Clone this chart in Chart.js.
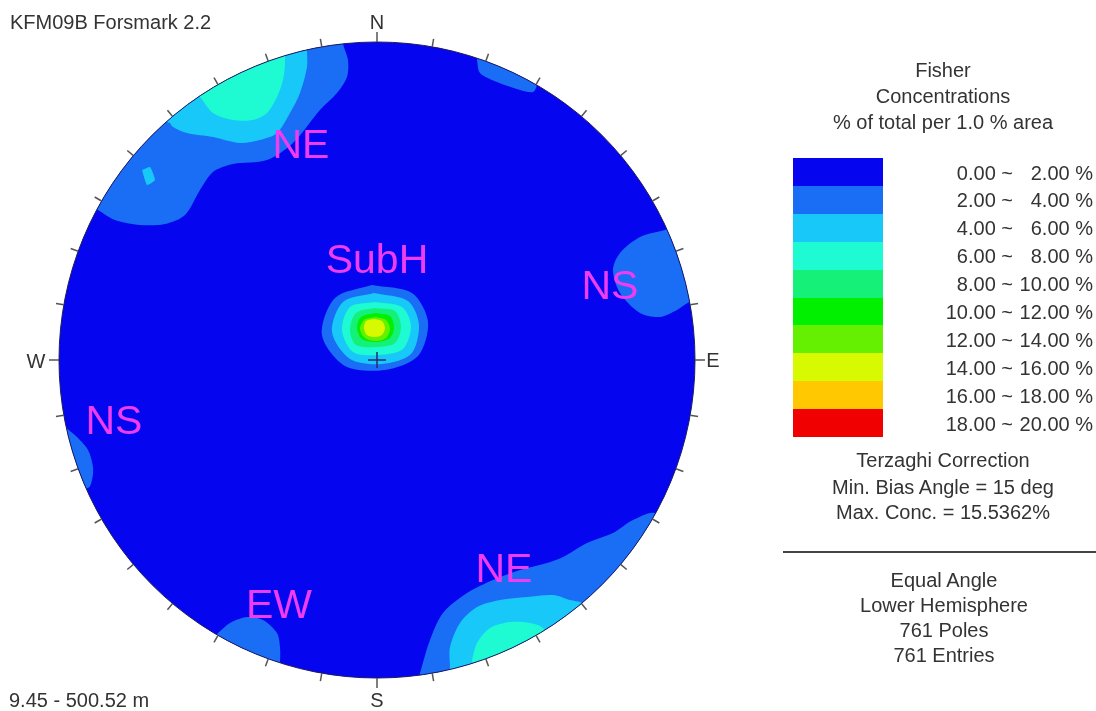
<!DOCTYPE html>
<html>
<head>
<meta charset="utf-8">
<title>KFM09B Forsmark 2.2</title>
<script src="https://cdn.jsdelivr.net/npm/chart.js@4/dist/chart.umd.min.js"></script>
<style>
  body { margin: 0; background: #fff; font-family: "Liberation Sans", Arial, sans-serif; color: #333; }
  #wrap { position: relative; width: 1096px; height: 711px; overflow: hidden; }
  #net { position: absolute; left: 0; top: 0; }
  .txt { position: absolute; font-size: 20px; line-height: 20px; white-space: pre; }
  .ctr { transform: translateX(-50%); }
  .mid { transform: translate(-50%, -50%); }
  .lbl { position: absolute; font-size: 41px; line-height: 41px; color: #f03cf0; white-space: pre; transform: translate(-50%, -50%); }
  .swatch { position: absolute; left: 793px; width: 90px; }
</style>
</head>
<body>
<div id="wrap">
  <canvas id="net" width="1096" height="711"></canvas>
  <div class="txt" style="left:10px;top:12px">KFM09B Forsmark 2.2</div>
  <div class="txt" style="left:9px;top:690px">9.45 - 500.52 m</div>

  <div class="txt ctr" style="left:943px;top:60px">Fisher</div>
  <div class="txt ctr" style="left:943px;top:86px">Concentrations</div>
  <div class="txt ctr" style="left:943px;top:112px">% of total per 1.0 % area</div>

  <div class="txt ctr" style="left:943px;top:450px">Terzaghi Correction</div>
  <div class="txt ctr" style="left:943px;top:477px">Min. Bias Angle = 15 deg</div>
  <div class="txt ctr" style="left:943px;top:502px">Max. Conc. = 15.5362%</div>
  <div style="position:absolute;left:783px;top:551px;width:313px;border-top:2px solid #444"></div>
  <div class="txt ctr" style="left:944px;top:570px">Equal Angle</div>
  <div class="txt ctr" style="left:944px;top:595px">Lower Hemisphere</div>
  <div class="txt ctr" style="left:944px;top:620px">761 Poles</div>
  <div class="txt ctr" style="left:944px;top:645px">761 Entries</div>
</div>

<script>
// net radius in plot units (east / north, centre = 0, 0)
const NET_RADIUS = 318;

// concentration classes (% of total per 1 % area)
const levelLow = ['0.00', '2.00', '4.00', '6.00', '8.00', '10.00', '12.00', '14.00', '16.00', '18.00'];
const levelHigh = ['2.00', '4.00', '6.00', '8.00', '10.00', '12.00', '14.00', '16.00', '18.00', '20.00'];
const levelColors = ['#0505f0', '#1a6ef5', '#18c8f8', '#1efad2', '#14f078', '#00f000', '#64f000', '#d7fa00', '#ffc800', '#f00000'];

const neTop2to4 = [[-279, 150], [-262, 140], [-237, 135], [-212, 136], [-192, 145], [-177, 170], [-164, 188], [-144, 196], [-110, 200], [-84, 217], [-57, 250], [-40, 267], [-30, 283], [-29, 300], [-34, 317], [-34, 345], [-180, 345], [-320, 230], [-300, 160]];
const neTop4to6 = [[-207, 237], [-204, 233], [-190, 227], [-164, 223], [-137, 217], [-117, 220], [-100, 227], [-87, 247], [-77, 267], [-70, 293], [-70, 310], [-70, 345], [-230, 290], [-225, 245]];
const neTop6to8 = [[-176, 262], [-164, 247], [-144, 240], [-124, 240], [-110, 247], [-100, 263], [-94, 280], [-92, 298], [-95, 340], [-200, 290]];
const speck4to6 = [[-235, 190], [-227, 193], [-222, 180], [-230, 175]];
const northEdge2to4 = [[100, 300], [103, 287], [120, 278], [143, 270], [156, 268], [160, 275], [165, 300], [110, 330]];
const nsEast2to4 = [[288, 130], [263, 123], [243, 107], [236, 90], [243, 67], [263, 47], [283, 43], [300, 50], [313, 58], [340, 60], [330, 150]];
const nsWest2to4 = [[-312, -67], [-300, -77], [-289, -90], [-284, -107], [-285, -120], [-289, -128], [-330, -130], [-340, -65]];
const ew2to4 = [[-159, -273], [-147, -263], [-130, -257], [-114, -260], [-100, -273], [-97, -287], [-97, -302], [-100, -340], [-180, -300]];
const neBottom2to4 = [[43, -313], [53, -280], [66, -253], [90, -233], [116, -220], [143, -210], [170, -203], [186, -197], [210, -183], [236, -173], [256, -160], [278, -153], [300, -175], [200, -320], [40, -345]];
const neBottom4to6 = [[73, -307], [73, -287], [83, -263], [100, -247], [123, -240], [150, -237], [176, -235], [193, -240], [205, -243], [225, -260], [160, -310], [70, -340]];
const neBottom6to8 = [[95, -300], [100, -283], [113, -268], [133, -262], [153, -263], [166, -268], [180, -290], [100, -330]];
const subH2to4 = [[-5, 75], [35, 67], [51, 38], [41, 4], [8, -10], [-32, -6], [-55, 25], [-42, 62]];
const subH4to6 = [[-3, 67], [31, 59], [42, 35], [34, 6], [5, -4], [-27, 1], [-45, 28], [-34, 58]];
const subH6to8 = [[-2, 58], [25, 53], [34, 34], [26, 11], [2, 5], [-24, 8], [-35, 30], [-27, 53]];
const subH8to10 = [[-3, 52], [18, 49], [24, 33], [18, 17], [0, 13], [-21, 15], [-27, 30], [-21, 47]];
const subH10to12 = [[-2, 47], [13, 44], [17, 33], [13, 22], [-1, 18], [-15, 21], [-20, 32], [-16, 43]];
const subH12to14 = [[-2, 43], [9, 40], [13, 31], [9, 22], [-1, 19], [-12, 22], [-17, 31], [-13, 40]];
const subH14to16 = [[-3, 41], [5, 39], [8, 32], [5, 25], [-2, 23], [-10, 25], [-13, 32], [-11, 39]];

const contourLevels = [1, 2, 3, 2, 1, 1, 1, 1, 1, 2, 3, 1, 2, 3, 4, 5, 6, 7];
const contourShapes = [neTop2to4, neTop4to6, neTop6to8, speck4to6, northEdge2to4, nsEast2to4, nsWest2to4, ew2to4,
  neBottom2to4, neBottom4to6, neBottom6to8, subH2to4, subH4to6, subH6to8, subH8to10, subH10to12, subH12to14, subH14to16];

// set labels
const clusterNames = ['NE', 'SubH', 'NS', 'NS', 'EW', 'NE'];
const clusterEast = [-76, 0, 233, -263, -98, 127];
const clusterNorth = [216, 101, 75, -60, -244, -208];

const compassNames = ['N', 'E', 'S', 'W'];

// disc, rim, ticks and centre cross, all placed through the chart scales
const netPlugin = {
    id: 'stereonet',
    beforeDatasetsDraw(chart) {
        const {ctx, scales: {x, y}} = chart;
        const cx = x.getPixelForValue(0), cy = y.getPixelForValue(0);
        const r = x.getPixelForValue(NET_RADIUS) - cx;
        ctx.save();
        ctx.beginPath();
        ctx.arc(cx, cy, r, 0, Math.PI * 2);
        ctx.fillStyle = levelColors[0];
        ctx.fill();
        ctx.clip();
    },
    afterDatasetsDraw(chart) {
        const {ctx, scales: {x, y}} = chart;
        ctx.restore();
        const cx = x.getPixelForValue(0), cy = y.getPixelForValue(0);
        const r = x.getPixelForValue(NET_RADIUS) - cx;
        ctx.save();
        ctx.beginPath();
        ctx.arc(cx, cy, r, 0, Math.PI * 2);
        ctx.strokeStyle = '#1a1a60';
        ctx.lineWidth = 1;
        ctx.stroke();
        // ticks every 10 degrees
        ctx.strokeStyle = '#555';
        ctx.lineWidth = 1.5;
        for (let az = 0; az < 360; az += 10) {
            const a = az * Math.PI / 180;
            const len = az % 90 === 0 ? 10 : 8;
            ctx.beginPath();
            ctx.moveTo(cx + Math.sin(a) * r, cy - Math.cos(a) * r);
            ctx.lineTo(cx + Math.sin(a) * (r + len), cy - Math.cos(a) * (r + len));
            ctx.stroke();
        }
        // centre cross
        ctx.strokeStyle = '#2a2a70';
        ctx.beginPath();
        ctx.moveTo(cx - 9, cy);
        ctx.lineTo(cx + 9, cy);
        ctx.moveTo(cx, cy - 8);
        ctx.lineTo(cx, cy + 8);
        ctx.stroke();
        ctx.restore();
    }
};

const datasets = contourShapes.map((shape, i) => {
    const pts = shape.map(p => ({x: p[0], y: p[1]}));
    pts.push({x: shape[0][0], y: shape[0][1]});
    return {
        data: pts,
        showLine: true,
        fill: 'shape',
        backgroundColor: levelColors[contourLevels[i]],
        borderColor: levelColors[contourLevels[i]],
        borderWidth: 0,
        pointRadius: 0,
        pointHoverRadius: 0,
        tension: shape.length > 4 ? 0.3 : 0.15,
        order: 20 - contourLevels[i]
    };
});

const chart = new Chart(document.getElementById('net'), {
    type: 'scatter',
    data: {datasets: datasets},
    options: {
        responsive: false,
        animation: false,
        events: [],
        layout: {padding: {left: 59, right: 401, top: 42, bottom: 33}},
        plugins: {legend: {display: false}, tooltip: {enabled: false}},
        scales: {
            x: {type: 'linear', min: -NET_RADIUS, max: NET_RADIUS, display: false},
            y: {type: 'linear', min: -NET_RADIUS, max: NET_RADIUS, display: false}
        }
    },
    plugins: [netPlugin]
});

const wrap = document.getElementById('wrap');

function addText(cls, text, left, top) {
    const d = document.createElement('div');
    d.className = cls;
    d.textContent = text;
    d.style.left = left + 'px';
    d.style.top = top + 'px';
    wrap.appendChild(d);
    return d;
}

// set labels on the net
clusterNames.forEach((name, i) => {
    addText('lbl', name, chart.scales.x.getPixelForValue(clusterEast[i]), chart.scales.y.getPixelForValue(clusterNorth[i]));
});

// compass letters just outside the rim
const area = chart.chartArea;
const cxp = chart.scales.x.getPixelForValue(0), cyp = chart.scales.y.getPixelForValue(0);
const compassPos = [[cxp, area.top - 20], [area.right + 18, cyp], [cxp, area.bottom + 22], [area.left - 23, cyp + 1]];
compassNames.forEach((name, i) => addText('txt mid', name, compassPos[i][0], compassPos[i][1]));

// colour key
const rowStep = 27.9;
levelColors.forEach((c, i) => {
    const s = document.createElement('div');
    s.className = 'swatch';
    s.style.top = (158 + i * rowStep) + 'px';
    s.style.height = (rowStep + 0.5) + 'px';
    s.style.background = c;
    wrap.appendChild(s);
    const top = 162.5 + i * rowStep;
    const lo = addText('txt', levelLow[i] + ' ~', 0, top);
    lo.style.left = 'auto';
    lo.style.right = '83px';
    const hi = addText('txt', levelHigh[i] + ' %', 0, top);
    hi.style.left = 'auto';
    hi.style.right = '3px';
});
</script>
</body>
</html>
